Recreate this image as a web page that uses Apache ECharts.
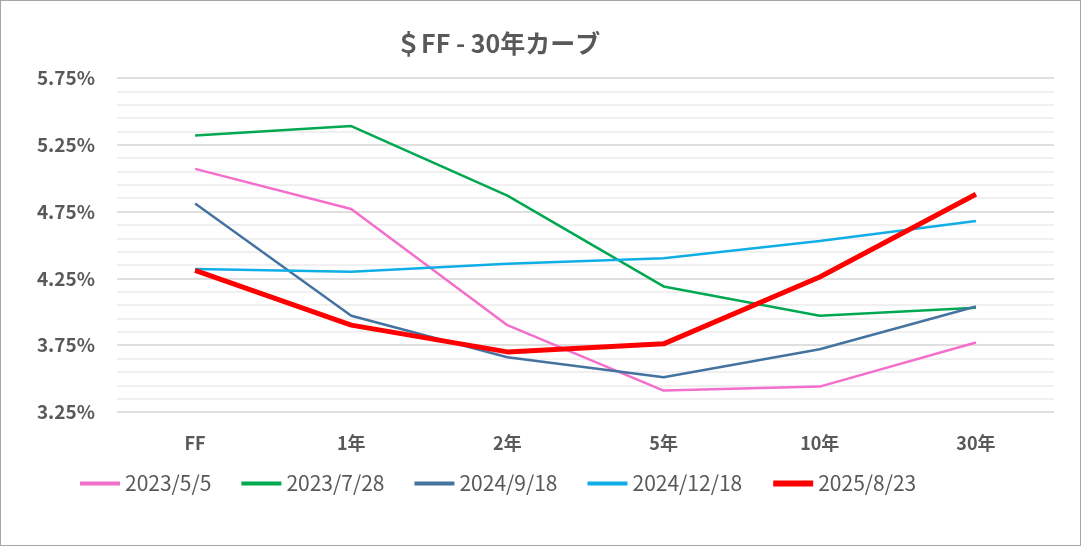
<!DOCTYPE html>
<html lang="ja">
<head>
<meta charset="UTF-8">
<title>＄FF - 30年カーブ</title>
<script src="https://cdn.jsdelivr.net/npm/echarts@6/dist/echarts.min.js"></script>
<style>
  html, body { margin: 0; padding: 0; background: #fff; }
  #main { width: 1079px; height: 544px; border: 1px solid #a6a6a6; }
</style>
</head>
<body>
<div id="main"></div>
<script>
// 年限
var tenors = ['FF', '1年', '2年', '5年', '10年', '30年'];
// 各日付の利回り (%)
var y20230505 = [5.07, 4.77, 3.90, 3.41, 3.44, 3.77];
var y20230728 = [5.32, 5.39, 4.87, 4.19, 3.97, 4.03];
var y20240918 = [4.81, 3.97, 3.66, 3.51, 3.72, 4.04];
var y20241218 = [4.32, 4.30, 4.36, 4.40, 4.53, 4.68];
var y20250823 = [4.31, 3.90, 3.70, 3.76, 4.26, 4.88];
var dates = ['2023/5/5', '2023/7/28', '2024/9/18', '2024/12/18', '2025/8/23'];

var FONT = '"Noto Sans CJK JP", "Noto Sans", sans-serif';
var GRAY = '#595959';

function line(name, data, color, width) {
    return {
        name: name,
        type: 'line',
        data: data,
        symbol: 'none',
        smooth: false,
        lineStyle: { color: color, width: width },
        itemStyle: { color: color }
    };
}

var chart = echarts.init(document.getElementById('main'));

chart.setOption({
    backgroundColor: '#fff',
    animation: false,
    textStyle: { fontFamily: FONT },
    title: {
        text: '＄FF - 30年カーブ',
        left: 390,
        top: 25,
        textStyle: { color: GRAY, fontSize: 25, fontWeight: 'bold', fontFamily: FONT }
    },
    grid: { left: 116, right: 26, top: 77, bottom: 133 },
    legend: {
        left: 72,
        top: 467,
        itemWidth: 40,
        itemHeight: 14,
        itemGap: 28,
        itemStyle: { opacity: 0 },   // 凡例は線だけ
        textStyle: { color: GRAY, fontSize: 21, fontFamily: FONT },
        // 凡例の線は少し太め
        data: dates.map(function (d, i) {
            return { name: d, lineStyle: { width: i === 4 ? 6 : 4 } };
        })
    },
    xAxis: {
        type: 'category',
        data: tenors,
        boundaryGap: true,
        axisLine: { show: false },
        axisTick: { show: false },
        axisLabel: { color: GRAY, fontSize: 18, fontWeight: 'bold', margin: 22, fontFamily: FONT }
    },
    yAxis: {
        type: 'value',
        min: 3.25,
        max: 5.75,
        interval: 0.5,
        axisLine: { show: false },
        axisTick: { show: false },
        axisLabel: {
            color: GRAY, fontSize: 19, fontWeight: 'bold', margin: 22, fontFamily: FONT,
            formatter: function (v) { return v.toFixed(2) + '%'; }
        },
        splitLine: { lineStyle: { color: '#d4d4d4', width: 1.5 } },
        minorTick: { show: false, splitNumber: 5 },
        minorSplitLine: { show: true, lineStyle: { color: '#ebebeb', width: 1.5 } }
    },
    series: [
        line(dates[0], y20230505, '#F46FCB', 2.5),
        line(dates[1], y20230728, '#00A850', 2.5),
        line(dates[2], y20240918, '#44739F', 2.5),
        line(dates[3], y20241218, '#0FAEE6', 2.5),
        line(dates[4], y20250823, '#FF0000', 5)
    ]
});
</script>
</body>
</html>
